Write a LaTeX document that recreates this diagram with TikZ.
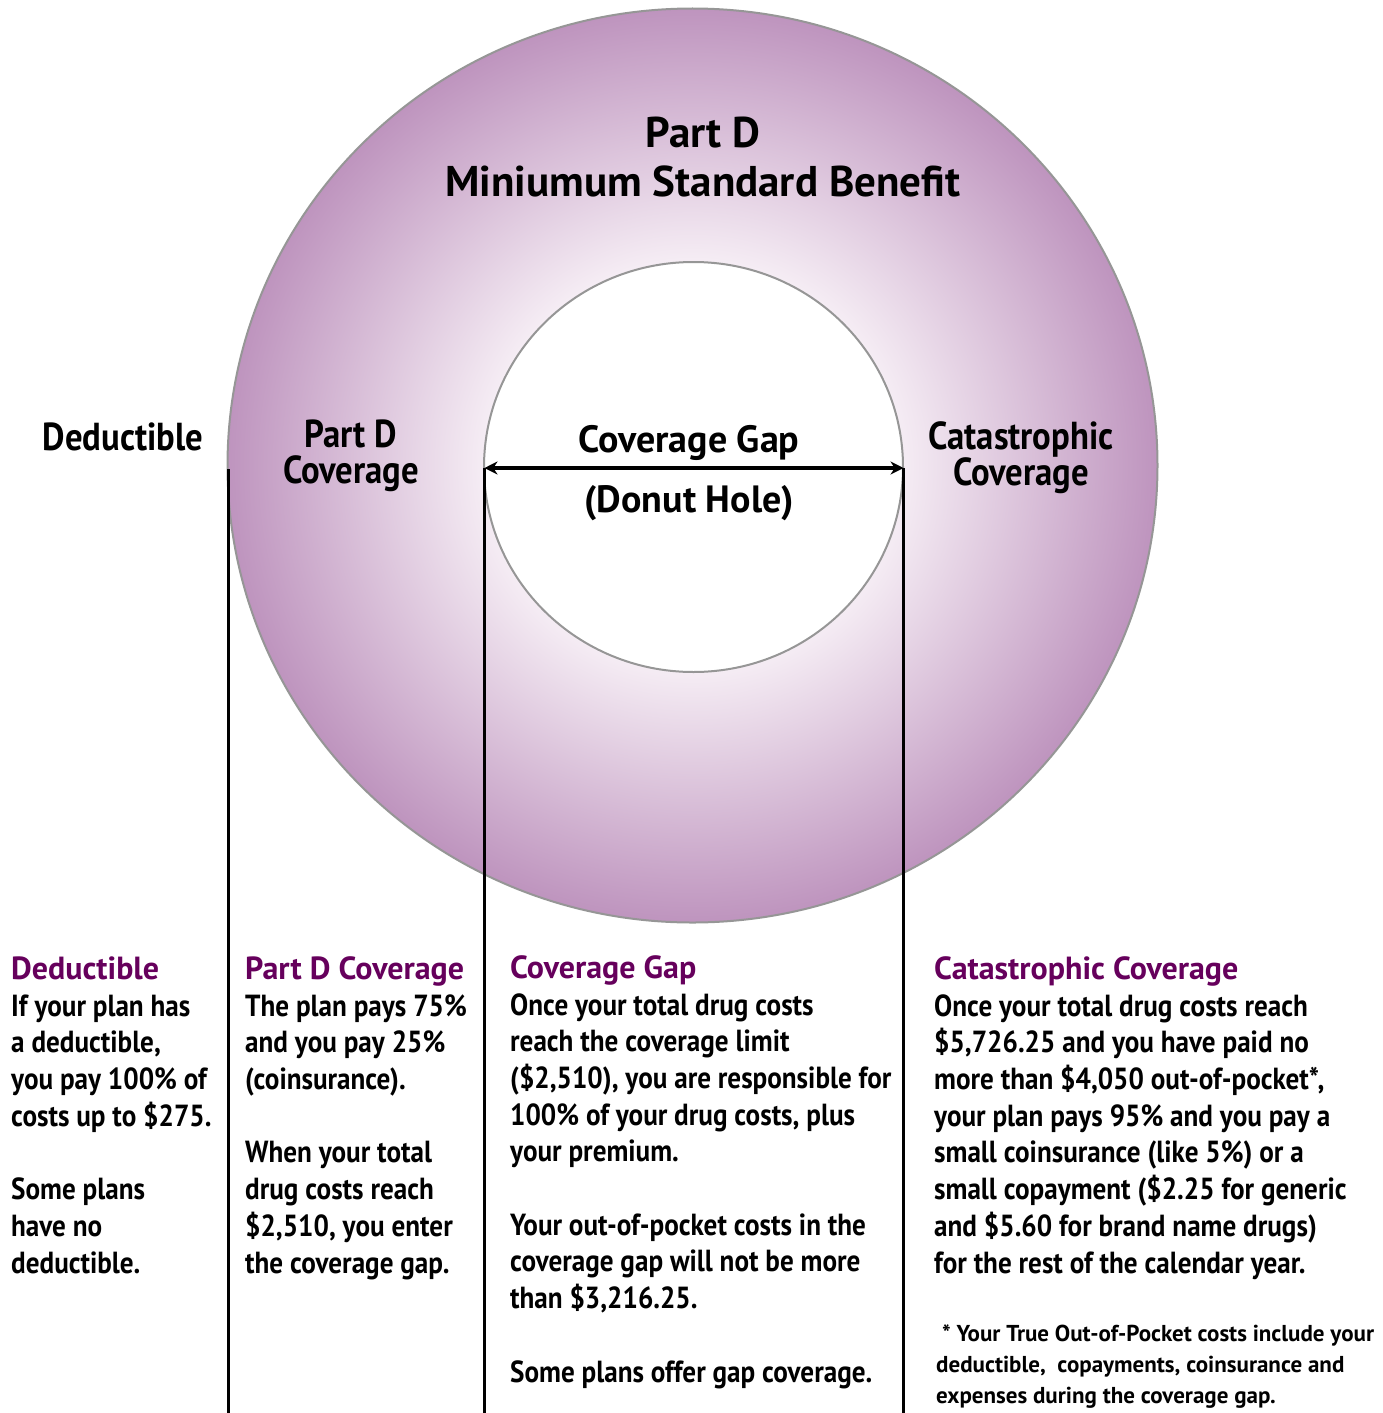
\documentclass[tikz,border=0pt]{standalone}
\usepackage{fontspec}
\setmainfont{PT Sans}
\newfontfamily\narrowsans{PT Sans}[FakeStretch=0.89]
\usetikzlibrary{arrows.meta}
\definecolor{ringdark}{RGB}{190,148,190}
\definecolor{ringlight}{RGB}{246,238,245}
\definecolor{headpurple}{RGB}{102,0,92}
\definecolor{rimgrey}{RGB}{150,150,150}
\pgfdeclareradialshading{donut}{\pgfpoint{0bp}{0bp}}{color(0bp)=(ringlight); color(11bp)=(ringlight); color(25bp)=(ringdark); color(50bp)=(ringdark)}
\tikzset{
  bigtitle/.style={font=\fontsize{43}{49}\selectfont\bfseries, align=center, anchor=base, inner sep=0pt},
  ringlabel/.style={font=\narrowsans\fontsize{39}{36}\selectfont\bfseries, align=center, anchor=base, inner sep=0pt},
  colhead/.style={font=\fontsize{32}{37}\selectfont\bfseries, text=headpurple, anchor=base west, inner sep=0pt},
  coltext/.style={font=\narrowsans\fontsize{30.5}{36.7}\selectfont\bfseries, align=left, anchor=base west, inner sep=0pt},
  foottext/.style={font=\fontsize{23}{31}\selectfont\bfseries, align=left, anchor=base west, inner sep=0pt},
  divider/.style={line width=2.5pt, black},
}
\begin{document}
\begin{tikzpicture}[x=1pt,y=-1pt]
\useasboundingbox (0,0) rectangle (1383,1413);
% the donut
\shade[shading=donut, draw=rimgrey, line width=2pt] (692.5,465.5) ellipse [x radius=465, y radius=457];
\filldraw[fill=white, draw=rimgrey, line width=2pt] (693.5,467) ellipse [x radius=209.5, y radius=205];
% titles in and around the ring (base = last line)
\node[bigtitle] (title) at (703,196) {Part D\\Miniumum Standard Benefit};
\node[ringlabel] (dedlabel) at (123,450) {Deductible};
\node[ringlabel] (partdlabel) at (351,483) {Part D\\Coverage};
\node[ringlabel, font=\fontsize{38}{36}\selectfont\bfseries] (gaplabel) at (689,452) {Coverage Gap};
\node[ringlabel, font=\fontsize{38}{36}\selectfont\bfseries] (donutlabel) at (689,512) {(Donut Hole)};
\node[ringlabel] (catlabel) at (1021,485) {Catastrophic\\Coverage};
% divider lines
\coordinate (dedtop) at (228.5,469);
\coordinate (dedbot) at (228.5,1413);
\coordinate (gapL) at (484.5,468);
\coordinate (gapLbot) at (484.5,1413);
\coordinate (gapR) at (903.5,468);
\coordinate (gapRbot) at (903.5,1413);
\draw[divider] (dedtop)--(dedbot);
\draw[divider] (gapL)--(gapLbot);
\draw[divider] (gapR)--(gapRbot);
\draw[line width=3.5pt, {Stealth[length=13pt,width=13pt]}-{Stealth[length=13pt,width=13pt]}] (gapL)--(gapR);
% columns (body nodes sit on their last baseline)
\node[colhead] (dedhead) at (11,979) {Deductible};
\node[coltext] (dedtext) at (11,1273) {If your plan has\\a deductible,\\you pay 100\% of\\costs up to \$275.\\[36.7pt]Some plans\\have no\\deductible.};
\node[colhead] (partdhead) at (245,979) {Part D Coverage};
\node[coltext] (partdtext) at (245,1273) {The plan pays 75\%\\and you pay 25\%\\(coinsurance).\\[36.7pt]When your total\\drug costs reach\\\$2,510, you enter\\the coverage gap.};
\node[colhead] (gaphead) at (510,978) {Coverage Gap};
\node[coltext] (gaptext) at (510,1382) {Once your total drug costs\\reach the coverage limit\\(\$2,510), you are responsible for\\100\% of your drug costs, plus\\your premium.\\[36.7pt]Your out-of-pocket costs in the\\coverage gap will not be more\\than \$3,216.25.\\[36.7pt]Some plans offer gap coverage.};
\node[colhead] (cathead) at (934,979) {Catastrophic Coverage};
\node[coltext] (cattext) at (934,1273) {Once your total drug costs reach\\\$5,726.25 and you have paid no\\more than \$4,050 out-of-pocket*,\\your plan pays 95\% and you pay a\\small coinsurance (like 5\%) or a\\small copayment (\$2.25 for generic\\and \$5.60 for brand name drugs)\\for the rest of the calendar year.};
\node[foottext] (catnote) at (936,1403) {\ * Your True Out-of-Pocket costs include your\\deductible,\ \ copayments, coinsurance and\\expenses during the coverage gap.};
\end{tikzpicture}
\end{document}
